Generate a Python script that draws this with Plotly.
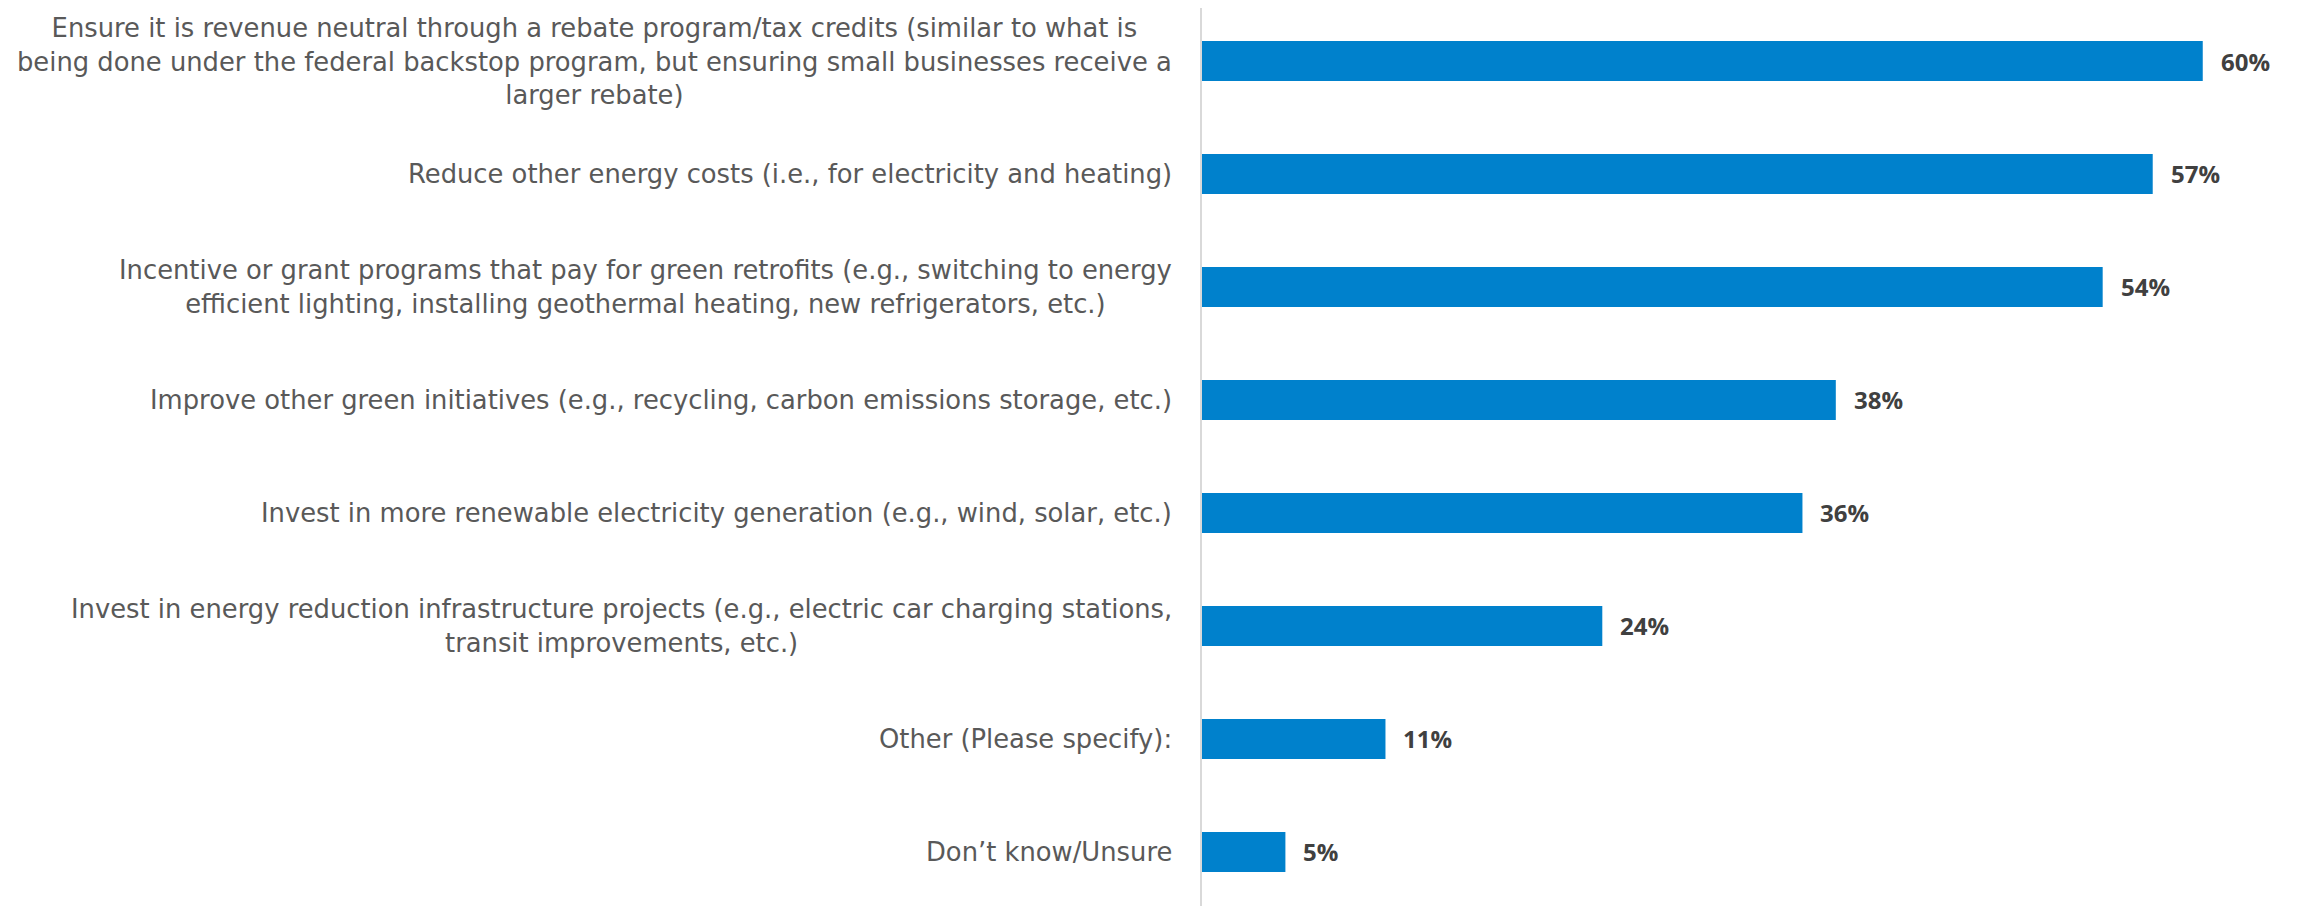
import plotly.graph_objects as go

categories = [
    "Ensure it is revenue neutral through a rebate program/tax credits (similar to what is<br>being done under the federal backstop program, but ensuring small businesses receive a<br>larger rebate)",
    "Reduce other energy costs (i.e., for electricity and heating)",
    "Incentive or grant programs that pay for green retrofits (e.g., switching to energy<br>efficient lighting, installing geothermal heating, new refrigerators, etc.)",
    "Improve other green initiatives (e.g., recycling, carbon emissions storage, etc.)",
    "Invest in more renewable electricity generation (e.g., wind, solar, etc.)",
    "Invest in energy reduction infrastructure projects (e.g., electric car charging stations,<br>transit improvements, etc.)",
    "Other (Please specify):",
    "Don\u2019t know/Unsure",
]
values = [60, 57, 54, 38, 36, 24, 11, 5]
value_labels = [f"{v}%" for v in values]

ids = list(range(len(categories)))

fig = go.Figure()
fig.add_trace(go.Bar(
    y=ids, x=values, orientation="h",
    marker=dict(color="#0081CC", line=dict(width=0)),
    width=0.354, hoverinfo="skip",
))

annotations = []
for i, (c, v, t) in enumerate(zip(categories, values, value_labels)):
    annotations.append(dict(
        x=0, xref="paper", y=i, yref="y", text=c, showarrow=False,
        xanchor="right", yanchor="middle", align="center", xshift=-28,
        font=dict(family="DejaVu Sans", size=25.8, color="#595959"),
    ))
    annotations.append(dict(
        x=v, xref="x", y=i, yref="y", text=f"<b>{t}</b>", showarrow=False,
        xanchor="left", yanchor="middle", xshift=16,
        font=dict(family="Open Sans", size=24, color="#404040"),
    ))

fig.update_layout(
    width=2301, height=906,
    margin=dict(l=1194, r=0, t=0, b=0),
    paper_bgcolor="white", plot_bgcolor="white",
    showlegend=False,
    annotations=annotations,
    xaxis=dict(range=[0, 66.37], visible=False, fixedrange=True),
    yaxis=dict(range=[7.549, -0.469], showticklabels=False, showgrid=False,
               zeroline=False, showline=True, linecolor="#D9D9D9", linewidth=2,
               ticks=""),
)

fig.write_html("out.html")
